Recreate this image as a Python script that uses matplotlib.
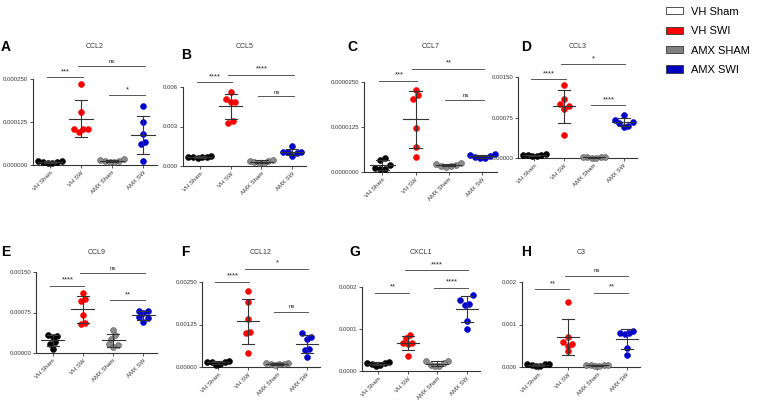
import numpy as np
import matplotlib.pyplot as plt
from matplotlib.patches import Patch

plt.rcParams['font.family'] = ['Liberation Sans', 'DejaVu Sans']

groups = ['VH Sham', 'VH SW', 'AMX Sham', 'AMX SW']
legend_labels = ['VH Sham', 'VH SWI', 'AMX SHAM', 'AMX SWI']

# valores (uno por animal)
ccl2 = [[0.000012, 0.000010, 0.000008, 0.000013, 0.000006, 0.000005],
        [0.000236, 0.000155, 0.000106, 0.000106, 0.000106, 0.000096],
        [0.000011, 0.000012, 0.000014, 0.000016, 0.000010, 0.000008],
        [0.000172, 0.000126, 0.000090, 0.000068, 0.000060, 0.000012]]
ccl5 = [[0.00068, 0.00070, 0.00072, 0.00078, 0.00065, 0.00062],
        [0.00562, 0.00507, 0.00487, 0.00487, 0.00343, 0.00330],
        [0.00035, 0.00040, 0.00045, 0.00030, 0.00025, 0.00020],
        [0.00151, 0.00108, 0.00103, 0.00103, 0.00096, 0.00076]]
ccl7 = [[0.0000040, 0.0000034, 0.0000020, 0.0000009, 0.0000009, 0.0000010],
        [0.0000229, 0.0000213, 0.0000202, 0.0000123, 0.0000070, 0.0000042],
        [0.0000020, 0.0000022, 0.0000025, 0.0000018, 0.0000015, 0.0000016],
        [0.0000045, 0.0000048, 0.0000050, 0.0000042, 0.0000040, 0.0000038]]
ccl3 = [[0.00006, 0.00005, 0.00007, 0.00004, 0.00005, 0.00003],
        [0.00135, 0.00110, 0.00100, 0.00097, 0.00090, 0.00043],
        [0.000010, 0.000012, 0.000008, 0.000010, 0.000009, 0.000011],
        [0.00079, 0.00071, 0.00067, 0.00065, 0.00059, 0.00058]]
ccl9 = [[0.00033, 0.00031, 0.00030, 0.00021, 0.00017, 0.00008],
        [0.00112, 0.00100, 0.00097, 0.00070, 0.00055, 0.00053],
        [0.00042, 0.00033, 0.00026, 0.00016, 0.00014, 0.00012],
        [0.00077, 0.00077, 0.00075, 0.00066, 0.00064, 0.00058]]
ccl12 = [[0.00015, 0.00014, 0.00016, 0.00018, 0.00010, 0.00007],
         [0.00225, 0.00190, 0.00141, 0.00104, 0.00101, 0.00042],
         [0.00011, 0.00012, 0.00010, 0.00009, 0.00008, 0.00006],
         [0.00101, 0.00089, 0.00083, 0.00054, 0.00051, 0.00030]]
cxcl1 = [[0.000020, 0.000019, 0.000021, 0.000016, 0.000014, 0.000013],
         [0.0000854, 0.000079, 0.0000672, 0.0000672, 0.000064, 0.0000356],
         [0.000024, 0.000023, 0.000018, 0.000015, 0.000012, 0.000011],
         [0.000180, 0.000170, 0.000160, 0.000158, 0.000119, 0.000100]]
c3 = [[0.00006, 0.00007, 0.00005, 0.00006, 0.00003, 0.00002],
      [0.00154, 0.00070, 0.00059, 0.00055, 0.00049, 0.00037],
      [0.00004, 0.00005, 0.00004, 0.00003, 0.00004, 0.00003],
      [0.00085, 0.00081, 0.00079, 0.00077, 0.00045, 0.00028]]

# comparaciones: (grupo i, grupo j, texto)
ccl2_sig = [(0, 1, '***'), (1, 3, 'ns'), (2, 3, '*')]
ccl5_sig = [(0, 1, '****'), (1, 3, '****'), (2, 3, 'ns')]
ccl7_sig = [(0, 1, '***'), (1, 3, '**'), (2, 3, 'ns')]
ccl3_sig = [(0, 1, '****'), (1, 3, '*'), (2, 3, '****')]
ccl9_sig = [(0, 1, '****'), (1, 3, 'ns'), (2, 3, '**')]
ccl12_sig = [(0, 1, '****'), (1, 3, '*'), (2, 3, 'ns')]
cxcl1_sig = [(0, 1, '**'), (1, 3, '****'), (2, 3, '****')]
c3_sig = [(0, 1, '**'), (1, 3, 'ns'), (2, 3, '**')]

colors = ['#000000', '#ff0000', '#8c8c8c', '#0000cc']
edges = ['#000000', '#ff0000', '#555555', '#0000cc']
legend_colors = ['white', '#ff0000', '#808080', '#0000c0']

W, H = 758, 403

# layout en pixeles: letra, titulo, datos, sig, izq, der, cero, tope, valor tope,
# formato, alturas de barras (fraccion del tope), x letra, y letra, y titulo
panels = [
    ('A', 'CCL2', ccl2, ccl2_sig, 33, 157, 165, 79, 0.00025, '%.6f', [1.02, 1.15, 0.81], 6, 47, 47),
    ('B', 'CCL5', ccl5, ccl5_sig, 183, 306, 166, 87, 0.006, '%.3f', [1.06, 1.155, 0.88], 186, 55, 47),
    ('C', 'CCL7', ccl7, ccl7_sig, 364, 497, 172, 82, 0.000025, '%.7f', [1.015, 1.15, 0.80], 352, 47, 47),
    ('D', 'CCL3', ccl3, ccl3_sig, 518, 637, 158, 77, 0.0015, '%.5f', [0.97, 1.16, 0.65], 526, 47, 47),
    ('E', 'CCL9', ccl9, ccl9_sig, 36, 157, 353, 272, 0.0015, '%.5f', [0.833, 0.993, 0.653], 6, 252, 252),
    ('F', 'CCL12', ccl12, ccl12_sig, 202, 320, 367, 282, 0.0025, '%.5f', [1.004, 1.156, 0.652], 185, 252, 252),
    ('G', 'CXCL1', cxcl1, cxcl1_sig, 362, 480, 371, 287, 0.0002, '%.4f', [0.93, 1.2, 0.99], 355, 252, 252),
    ('H', 'C3', c3, c3_sig, 522, 640, 367, 282, 0.002, '%.3f', [0.915, 1.075, 0.875], 526, 252, 252),
]


def spread(vals, tol):
    # reparte los puntos parecidos a izquierda y derecha del centro (tipo Prism)
    vals = np.asarray(vals)
    order = np.argsort(vals)
    offs = np.zeros(len(vals))
    grupos = []
    actual = [order[0]]
    for k in order[1:]:
        if vals[k] - vals[actual[-1]] < tol:
            actual.append(k)
        else:
            grupos.append(actual)
            actual = [k]
    grupos.append(actual)
    for g in grupos:
        n = len(g)
        paso = 0.15
        desp = 0.0 if n % 2 else -paso / 2
        for j, k in enumerate(g):
            lado = 1 if j % 2 else -1
            offs[k] = desp + lado * ((j + 1) // 2) * paso
    return offs


fig = plt.figure(figsize=(W / 100, H / 100), dpi=100)

for (letra, titulo, datos, sig, left, right, zero, tick, top, fmt, alturas,
     xl, yl, yt) in panels:
    ax = fig.add_axes([left / W, (H - zero) / H, (right - left) / W, (zero - tick) / H])
    ax.set_ylim(0, top)
    ax.set_xlim(-0.55, 3.45)
    for i, vals in enumerate(datos):
        xs = i + spread(vals, 0.05 * top)
        ax.scatter(xs, vals, s=18, color=colors[i], edgecolors=edges[i],
                   linewidths=0.4, zorder=3, clip_on=False)
        m = np.mean(vals)
        sd = np.std(vals, ddof=1)
        ax.plot([i - 0.38, i + 0.38], [m, m], color='#333333', lw=0.8, zorder=4, clip_on=False)
        ax.plot([i, i], [m - sd, m + sd], color='#333333', lw=0.8, zorder=4, clip_on=False)
        for yy in (m - sd, m + sd):
            ax.plot([i - 0.2, i + 0.2], [yy, yy], color='#333333', lw=0.8, zorder=4, clip_on=False)
    for (a, b, txt), h in zip(sig, alturas):
        yy = h * top
        ax.plot([a - 0.1, b + 0.05], [yy, yy], color='#555555', lw=0.7, clip_on=False)
        ax.text((a + b) / 2, yy + 0.025 * top, txt, ha='center', va='bottom',
                fontsize=5.5 if txt != 'ns' else 4.5, color='#222222')
    ax.set_yticks([0, top / 2, top])
    ax.set_yticklabels([fmt % v for v in [0, top / 2, top]])
    ax.set_xticks(range(4))
    ax.set_xticklabels(groups, rotation=45, ha='right', rotation_mode='anchor')
    ax.tick_params(labelsize=4.3, length=2, width=0.6, pad=1.5, colors='#333333')
    for s in ['top', 'right']:
        ax.spines[s].set_visible(False)
    for s in ['left', 'bottom']:
        ax.spines[s].set_linewidth(0.8)
        ax.spines[s].set_color('#333333')
    fig.text(xl / W, 1 - yl / H, letra, fontsize=10, fontweight='bold', ha='center', va='center')
    fig.text((left + right) / 2 / W, 1 - yt / H, titulo, fontsize=5, ha='center', va='center',
             color='#333333')

handles = [Patch(facecolor=c, edgecolor='#333333', linewidth=0.6) for c in legend_colors]
fig.legend(handles, legend_labels, loc='upper left', bbox_to_anchor=(659 / W, 1.0),
           frameon=False, fontsize=8, handlelength=1.6, handleheight=0.65,
           handletextpad=0.7, labelspacing=0.85, borderaxespad=0.2)

plt.savefig('out.png', dpi=100)
